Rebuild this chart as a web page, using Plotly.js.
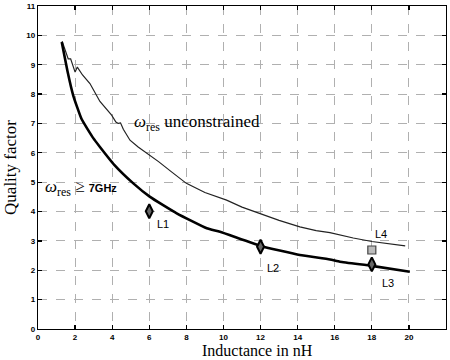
<!DOCTYPE html>
<html><head><meta charset="utf-8">
<script src="https://cdn.plot.ly/plotly-3.0.1.min.js"></script>
<style>body{margin:0;background:#fff}#c{width:450px;height:360px}</style>
</head><body><div id="c"></div>
<script>
// Unconstrained (thin) curve
const unconX = [1.3,1.5,1.63,1.76,1.9,2.0,2.12,2.4,2.8,3.34,3.97,4.2,4.33,4.45,4.6,4.78,4.96,5.4,5.86,6.5,7.2,8.0,9.0,10.17,11.0,11.97,13.0,14.12,15.0,15.74,16.28,17.0,18.0,19.0,19.8];
const unconY = [9.8,9.45,9.2,9.2,8.9,8.75,8.92,8.65,8.36,7.75,7.28,7.05,7.0,7.02,6.8,6.6,6.43,6.2,6.0,5.7,5.35,4.96,4.65,4.39,4.15,3.93,3.7,3.48,3.35,3.28,3.2,3.1,2.98,2.9,2.83];
// Constrained (thick) curve, w_res >= 7GHz
const consX = [1.28,1.6,1.9,2.35,2.98,3.34,4.1,5.14,6.04,7.48,9.1,9.81,12.06,14.12,15.74,16.28,18.0,20.05];
const consY = [9.77,8.75,7.95,7.15,6.5,6.2,5.6,4.96,4.5,3.94,3.43,3.31,2.82,2.52,2.37,2.29,2.15,1.95];
// Measured inductors
const measNames = ["L1","L2","L3"];
const measX = [6,12,18];
const measY = [4.01,2.8,2.2];
const l4Name = ["L4"];
const l4X = [18];
const l4Y = [2.69];
const xTicks = [0,2,4,6,8,10,12,14,16,18,20,22];
const yTicks = [0,1,2,3,4,5,6,7,8,9,10,11];

const traces = [
  {x: unconX, y: unconY, mode:'lines', line:{color:'#222', width:1.2}, hoverinfo:'skip'},
  {x: consX, y: consY, mode:'lines', line:{color:'#000', width:2.6, shape:'spline', smoothing:0.4}, hoverinfo:'skip'},
  {x: measX, y: measY, mode:'markers', marker:{symbol:'diamond-tall', size:10, color:'#666', line:{color:'#000', width:2}}},
  {x: l4X, y: l4Y, mode:'markers', marker:{symbol:'square', size:8, color:'#bbb', line:{color:'#444', width:1.2}}}
];

const ann = [];
const offs = [[6,-13],[4,-21],[8,-19]];
measNames.forEach((n,i)=>ann.push({x:measX[i], y:measY[i], text:n, showarrow:false, xanchor:'left', yanchor:'middle', xshift:offs[i][0], yshift:offs[i][1], font:{family:'Liberation Sans, Arial', size:11, color:'#000'}}));
ann.push({x:l4X[0], y:l4Y[0], text:l4Name[0], showarrow:false, xanchor:'left', yanchor:'middle', xshift:1, yshift:16, font:{family:'Liberation Sans, Arial', size:11, color:'#000'}});
ann.push({x:5.05, y:7.0, text:'<i>ω</i><sub>res</sub> unconstrained', showarrow:false, xanchor:'left', yanchor:'middle', font:{family:'Liberation Serif, Times New Roman', size:17, color:'#000'}});
ann.push({x:0.25, y:4.8, text:'<i>ω</i><sub>res</sub> ≥ <span style="font-family:Liberation Sans;font-size:11px;font-weight:bold">7GHz</span>', showarrow:false, xanchor:'left', yanchor:'middle', font:{family:'Liberation Serif, Times New Roman', size:17, color:'#000'}});
ann.push({xref:'paper', yref:'paper', x:0.537, y:-0.066, text:'Inductance in nH', showarrow:false, xanchor:'center', yanchor:'middle', font:{family:'Liberation Serif, Times New Roman', size:16, color:'#000'}});

const axCommon = {
  showline:true, linecolor:'#000', linewidth:1.3, mirror:'ticks',
  ticks:'inside', ticklen:4, tickcolor:'#000', tickwidth:1.2,
  showgrid:true, gridcolor:'#b0b0b0', gridwidth:1, griddash:'dash',
  zeroline:false, tickfont:{family:'Liberation Sans, Arial', size:8, color:'#000', weight:'bold'}
};

const layout = {
  width:450, height:360, margin:{l:38, r:4, t:6, b:31},
  paper_bgcolor:'#fff', plot_bgcolor:'#fff', showlegend:false,
  xaxis: Object.assign({}, axCommon, {range:[0,22], tickvals:xTicks, ticktext:xTicks.map(String)}),
  yaxis: Object.assign({}, axCommon, {range:[0,11], tickvals:yTicks, ticktext:yTicks.map(String),
    title:{text:'Quality factor', standoff:5, font:{family:'Liberation Serif, Times New Roman', size:17, color:'#000'}}}),
  annotations: ann
};
Plotly.newPlot('c', traces, layout, {staticPlot:true, displayModeBar:false});
</script></body></html>
